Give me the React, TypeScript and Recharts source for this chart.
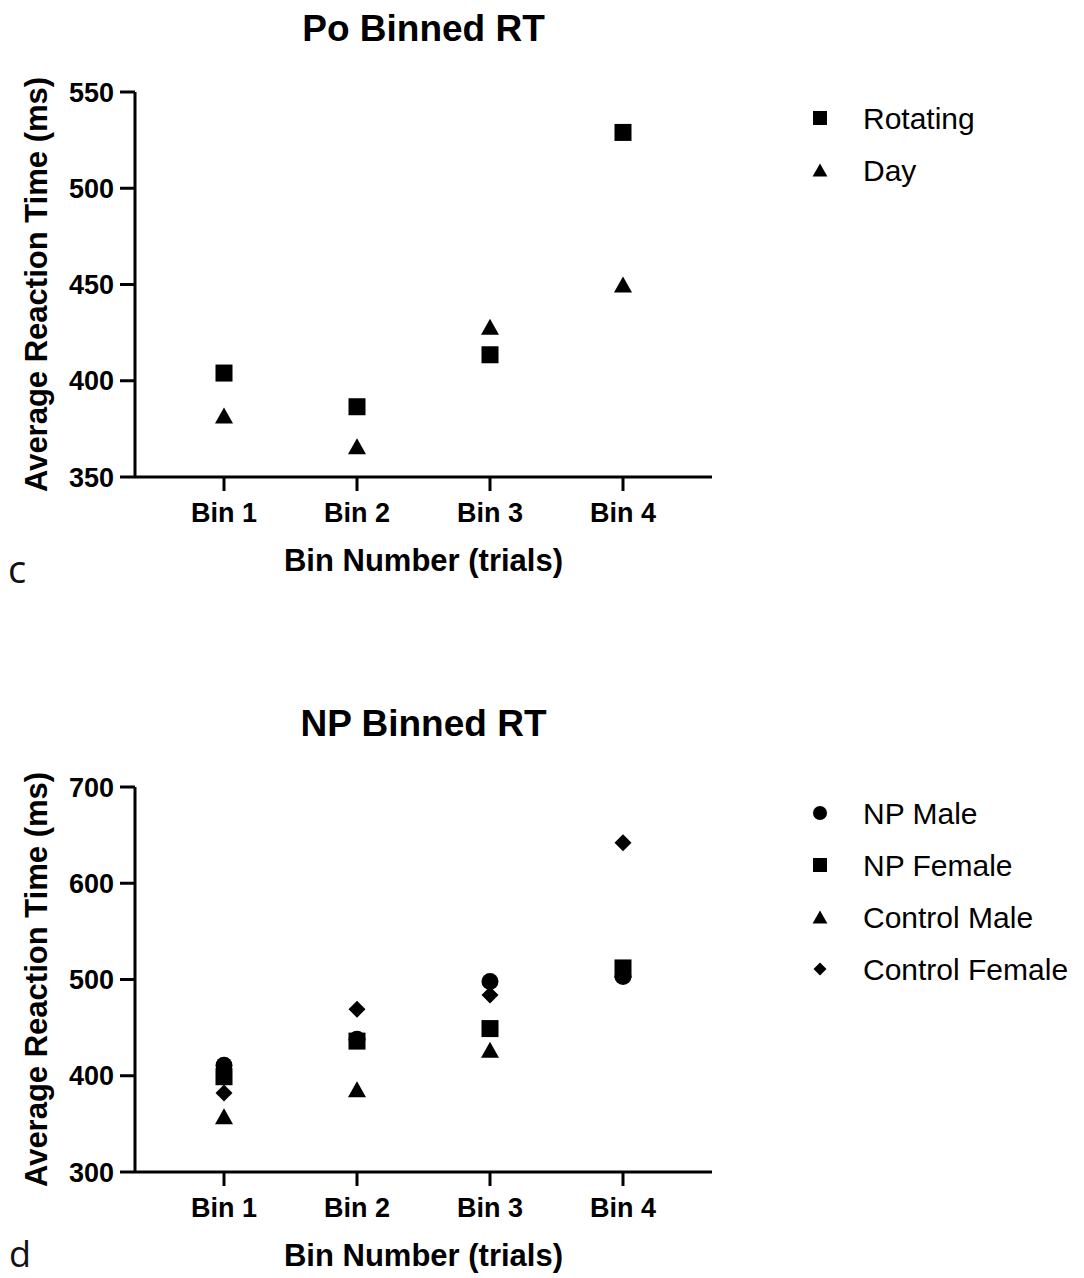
import React from 'react';
import { ComposedChart, Scatter, XAxis, YAxis, Label } from 'recharts';

// ---------- data ----------
const bins = ['Bin 1', 'Bin 2', 'Bin 3', 'Bin 4'];

const poRotating = [404, 386.5, 413.5, 529];
const poDay = [382, 366, 428, 450];
const poTicks = [350, 400, 450, 500, 550];

const npMale = [411, 438, 498, 503];
const npFemale = [399, 436, 449, 512];
const controlMale = [358, 386, 427, 510];
const controlFemale = [382, 469, 484, 642];
const npTicks = [300, 400, 500, 600, 700];

const poData = bins.map((bin, i) => ({ bin, rotating: poRotating[i], day: poDay[i] }));
const npData = bins.map((bin, i) => ({
  bin,
  npMale: npMale[i],
  npFemale: npFemale[i],
  controlMale: controlMale[i],
  controlFemale: controlFemale[i],
}));

type Kind = 'circle' | 'square' | 'triangle' | 'diamond';
interface SeriesDef { key: string; name: string; kind: Kind }

const poSeries: SeriesDef[] = [
  { key: 'rotating', name: 'Rotating', kind: 'square' },
  { key: 'day', name: 'Day', kind: 'triangle' },
];
const npSeries: SeriesDef[] = [
  { key: 'npMale', name: 'NP Male', kind: 'circle' },
  { key: 'npFemale', name: 'NP Female', kind: 'square' },
  { key: 'controlMale', name: 'Control Male', kind: 'triangle' },
  { key: 'controlFemale', name: 'Control Female', kind: 'diamond' },
];

// ---------- styling ----------
const FONT = '"Liberation Sans", Arial, Helvetica, sans-serif';
const CH_W = 1084;
const CH_H = 590;
const PLOT_LEFT = 135;
const PLOT_RIGHT = 712;
const PLOT_TOP = 92;
const PLOT_BOTTOM = 477;
const X_AXIS_H = 60;

function marker(kind: Kind, cx: number, cy: number, s: number) {
  switch (kind) {
    case 'square':
      return <rect x={cx - s / 2} y={cy - s / 2} width={s} height={s} fill="#000" />;
    case 'circle':
      return <circle cx={cx} cy={cy} r={s / 2} fill="#000" />;
    case 'triangle': {
      const w = s * 1.06;
      const h = s * 0.94;
      return (
        <polygon
          points={`${cx},${cy - h / 2} ${cx + w / 2},${cy + h / 2} ${cx - w / 2},${cy + h / 2}`}
          fill="#000"
        />
      );
    }
    case 'diamond': {
      const r = s / 2;
      return (
        <polygon points={`${cx},${cy - r} ${cx + r},${cy} ${cx},${cy + r} ${cx - r},${cy}`} fill="#000" />
      );
    }
  }
  return null;
}

const plotSize: Record<Kind, number> = { square: 17, circle: 17, triangle: 17, diamond: 17 };
const legendSize: Record<Kind, number> = { square: 14, circle: 14, triangle: 14, diamond: 13 };

interface PanelProps {
  top: number;
  title: string;
  data: any[];
  series: SeriesDef[];
  ticks: number[];
}

function Panel({ top, title, data, series, ticks }: PanelProps) {
  const domain: [number, number] = [ticks[0], ticks[ticks.length - 1]];
  const xLabel = (props: any) => {
    const vb = props.viewBox || {};
    const cx = (vb.x ?? PLOT_LEFT) + (vb.width ?? PLOT_RIGHT - PLOT_LEFT) / 2;
    const y = (vb.y ?? PLOT_BOTTOM) + 94;
    return (
      <text x={cx} y={y} textAnchor="middle" fontFamily={FONT} fontWeight="bold" fontSize={31} fill="#000">
        Bin Number (trials)
      </text>
    );
  };
  const yLabel = (props: any) => {
    const vb = props.viewBox || {};
    const cy = (vb.y ?? PLOT_TOP) + (vb.height ?? PLOT_BOTTOM - PLOT_TOP) / 2;
    const x = 47;
    return (
      <text
        x={x}
        y={cy}
        transform={`rotate(-90 ${x} ${cy})`}
        textAnchor="middle"
        fontFamily={FONT}
        fontWeight="bold"
        fontSize={31}
        fill="#000"
      >
        Average Reaction Time (ms)
      </text>
    );
  };
  return (
    <div style={{ position: 'absolute', left: 0, top, width: CH_W, height: CH_H }}>
      <ComposedChart
        width={CH_W}
        height={CH_H}
        data={data}
        margin={{ top: PLOT_TOP, right: CH_W - PLOT_RIGHT, bottom: CH_H - PLOT_BOTTOM - X_AXIS_H, left: 0 }}
      >
        <XAxis
          dataKey="bin"
          type="category"
          height={X_AXIS_H}
          interval={0}
          padding={{ left: 89, right: 89 }}
          axisLine={{ stroke: '#000', strokeWidth: 3 }}
          tickLine={{ stroke: '#000', strokeWidth: 3 }}
          tickSize={14}
          tickMargin={12}
          tick={{ fill: '#000', fontSize: 27, fontWeight: 'bold', fontFamily: FONT }}
        >
          <Label content={xLabel} />
        </XAxis>
        <YAxis
          type="number"
          domain={domain}
          ticks={ticks}
          interval={0}
          width={PLOT_LEFT}
          axisLine={{ stroke: '#000', strokeWidth: 3 }}
          tickLine={{ stroke: '#000', strokeWidth: 3 }}
          tickSize={15}
          tickMargin={6}
          tick={{ fill: '#000', fontSize: 27, fontWeight: 'bold', fontFamily: FONT }}
        >
          <Label content={yLabel} />
        </YAxis>
        {series.map((s) => (
          <Scatter
            key={s.key}
            dataKey={s.key}
            name={s.name}
            isAnimationActive={false}
            shape={(p: any) => marker(s.kind, p.cx, p.cy, plotSize[s.kind])}
          />
        ))}
      </ComposedChart>
      <svg
        width={CH_W}
        height={CH_H}
        style={{ position: 'absolute', left: 0, top: 0, pointerEvents: 'none' }}
      >
        <text
          x={(PLOT_LEFT + PLOT_RIGHT) / 2}
          y={PLOT_TOP - 51}
          textAnchor="middle"
          fontFamily={FONT}
          fontWeight="bold"
          fontSize={37}
          fill="#000"
        >
          {title}
        </text>
        {series.map((s, i) => {
          const cy = PLOT_TOP + 26 + i * 52;
          return (
            <g key={s.key}>
              {marker(s.kind, 820, cy, legendSize[s.kind])}
              <text x={863} y={cy + 11} fontFamily={FONT} fontSize={30} fill="#000">
                {s.name}
              </text>
            </g>
          );
        })}
      </svg>
    </div>
  );
}

export default function App() {
  return (
    <div
      style={{
        position: 'absolute',
        left: 0,
        top: 0,
        width: 1084,
        height: 1278,
        background: '#fff',
        overflow: 'hidden',
      }}
    >
      <Panel top={0} title="Po Binned RT" data={poData} series={poSeries} ticks={poTicks} />
      <Panel top={695} title="NP Binned RT" data={npData} series={npSeries} ticks={npTicks} />
      <svg width={1084} height={1278} style={{ position: 'absolute', left: 0, top: 0, pointerEvents: 'none' }}>
        <text x={8} y={583} fontFamily='"Open Sans", "Noto Sans", sans-serif' fontSize={38} fill="#111">
          c
        </text>
        <text x={9} y={1267} fontFamily='"Open Sans", "Noto Sans", sans-serif' fontSize={36} fill="#111">
          d
        </text>
      </svg>
    </div>
  );
}
